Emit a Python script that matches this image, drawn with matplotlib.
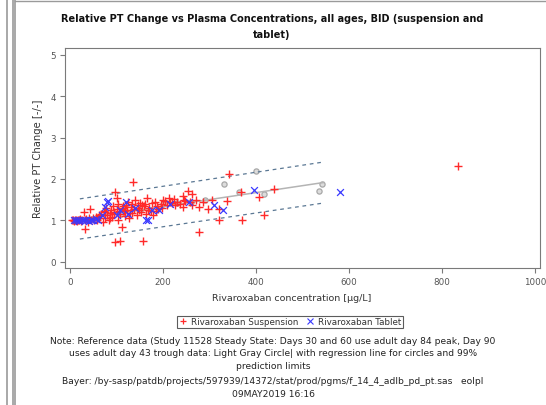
"""Relative PT change vs rivaroxaban plasma concentration (SAS-style scatter)."""

import matplotlib

matplotlib.use("Agg")
import matplotlib.pyplot as plt  # noqa: E402
from matplotlib.lines import Line2D  # noqa: E402

# --- data ------------------------------------------------------------------
SUSP_CONC = [4, 7, 9, 11, 13, 15, 17, 19, 21, 24, 26, 29, 31, 33, 35, 38, 41,
             43, 46, 49, 52, 55, 58, 61, 64, 67, 70, 72, 75, 78, 80, 83, 85,
             88, 90, 92, 95, 97, 97, 100, 100, 102, 104, 107, 108, 111, 112,
             115, 118, 120, 122, 125, 127, 130, 133, 136, 138, 140, 143, 145,
             148, 150, 153, 157, 158, 161, 163, 166, 170, 174, 178, 182, 186,
             190, 195, 200, 203, 208, 212, 218, 224, 230, 236, 242, 242, 248,
             253, 258, 263, 263, 270, 276, 278, 285, 296, 305, 320, 320, 338,
             342, 367, 370, 406, 417, 438, 833,
             62, 74, 86, 94, 105, 113, 117, 128, 132, 146, 155, 168, 176, 184,
             198, 215, 226, 245]
SUSP_VAL = [1.00, 1.01, 0.99, 1.02, 1.00, 0.98, 1.01, 1.00, 1.03, 0.99, 1.02,
            1.20, 1.00, 0.80, 1.04, 0.97, 1.05, 1.28, 1.00, 1.06, 1.02, 1.08,
            1.00, 1.05, 1.10, 1.15, 0.95, 1.22, 1.05, 1.30, 1.12, 1.00, 1.18,
            1.25, 1.08, 1.35, 1.20, 1.68, 0.47, 1.28, 1.55, 1.02, 1.40, 0.51,
            1.15, 0.84, 1.30, 1.22, 1.10, 1.38, 1.25, 1.45, 1.05, 1.32, 1.18,
            1.92, 1.28, 1.50, 1.12, 1.38, 1.25, 1.42, 1.20, 0.51, 1.35, 1.40,
            1.15, 1.55, 1.30, 1.22, 1.12, 1.45, 1.35, 1.28, 1.40, 1.50, 1.48,
            1.38, 1.55, 1.42, 1.52, 1.45, 1.40, 1.60, 1.32, 1.48, 1.72, 1.45,
            1.64, 1.36, 1.50, 0.72, 1.32, 1.45, 1.28, 1.50, 1.28, 1.00, 1.48,
            2.12, 1.68, 1.00, 1.56, 1.12, 1.76, 2.31,
            1.12, 1.20, 1.05, 1.16, 1.22, 1.35, 1.26, 1.18, 1.40, 1.30, 1.36,
            1.25, 1.42, 1.22, 1.30, 1.45, 1.36, 1.50]

TAB_CONC = [8, 12, 16, 20, 25, 30, 35, 40, 45, 50, 55, 60, 68, 75, 79, 82,
            100, 107, 121, 125, 140, 164, 168, 175, 192, 215, 256, 310, 328,
            395, 580]
TAB_VAL = [1.00, 1.00, 1.01, 0.99, 1.00, 1.02, 1.00, 0.98, 1.01, 1.00, 1.03,
           1.00, 1.12, 1.32, 1.44, 1.48, 1.12, 1.24, 1.44, 1.16, 1.30, 1.00,
           1.00, 1.24, 1.24, 1.40, 1.44, 1.36, 1.24, 1.73, 1.68]

REF_CONC = [20, 60, 110, 150, 200, 230, 260, 290, 331, 363, 399, 417, 534, 541]
REF_VAL = [1.02, 1.08, 1.15, 1.25, 1.40, 1.42, 1.45, 1.50, 1.88, 1.69, 2.20,
           1.64, 1.72, 1.88]

# regression line and 99% prediction limits (end points)
FIT_CONC = [21, 545]
FIT_VAL = [1.035, 1.915]
PI_UPPER = [1.52, 2.41]
PI_LOWER = [0.55, 1.42]

X_TICKS = [0, 200, 400, 600, 800, 1000]
Y_TICKS = [0, 1, 2, 3, 4, 5]

TITLE = ("Relative PT Change vs Plasma Concentrations, all ages, BID (suspension and\n"
         "tablet)")
NOTE = ("Note: Reference data (Study 11528 Steady State: Days 30 and 60 use adult day 84 peak, Day 90\n"
        "uses adult day 43 trough data: Light Gray Circle| with regression line for circles and 99%\n"
        "prediction limits")
FOOT = ("Bayer: /by-sasp/patdb/projects/597939/14372/stat/prod/pgms/f_14_4_adlb_pd_pt.sas   eolpl\n"
        "09MAY2019 16:16")

INK = "#111111"
TICK = "#555555"
FRAME = "#7a7a7a"
RED = "#ff2a2a"
BLUE = "#3a3aff"
REF_GRAY = "#a8a8a8"
PI_COLOR = "#5b7894"

plt.rcParams.update({
    "font.family": "DejaVu Sans",
    "font.size": 6.5,
    "axes.edgecolor": FRAME,
    "axes.linewidth": 0.8,
    "xtick.color": FRAME,
    "ytick.color": FRAME,
    "xtick.labelcolor": TICK,
    "ytick.labelcolor": TICK,
    "xtick.major.size": 3.5,
    "ytick.major.size": 3.5,
})

fig = plt.figure(figsize=(5.46, 4.06), dpi=100)
ax = fig.add_axes([0.119, 0.3374, 0.870, 0.5416])

ax.scatter(REF_CONC, REF_VAL, s=14, facecolors="#dcdcdc", edgecolors=REF_GRAY,
           linewidths=0.9, zorder=2)
ax.plot(FIT_CONC, FIT_VAL, color="#b4b4b4", linewidth=1.1, zorder=2)
ax.plot(FIT_CONC, PI_UPPER, color=PI_COLOR, linewidth=0.9, ls=(0, (3, 3)), zorder=2)
ax.plot(FIT_CONC, PI_LOWER, color=PI_COLOR, linewidth=0.9, ls=(0, (3, 3)), zorder=2)
ax.scatter(SUSP_CONC, SUSP_VAL, s=36, marker="+", color=RED, linewidths=1.0, zorder=3)
ax.scatter(TAB_CONC, TAB_VAL, s=24, marker="x", color=BLUE, linewidths=0.9, zorder=4)

ax.set_xlim(-11, 1010)
ax.set_ylim(-0.15, 5.16)
ax.set_xticks(X_TICKS)
ax.set_yticks(Y_TICKS)
ax.tick_params(labelsize=6.3, pad=3)
ax.set_xlabel("Rivaroxaban concentration [µg/L]", fontsize=6.8, color="#333333")
ax.xaxis.set_label_coords(0.478, -0.115)
ax.set_ylabel("Relative PT Change [-/-]", fontsize=7.2, color="#333333", labelpad=5)

fig.text(0.498, 1 - 27 / 406, TITLE, ha="center", va="center", fontsize=7.0,
         fontweight="bold", color=INK, linespacing=1.8)

handles = [
    Line2D([], [], marker="+", color=RED, ls="none", markersize=5, mew=0.9),
    Line2D([], [], marker="x", color=BLUE, ls="none", markersize=4.5, mew=0.8),
]
leg = fig.legend(handles, ["Rivaroxaban Suspension", "Rivaroxaban Tablet"],
                 loc="center", bbox_to_anchor=(290 / 546, 1 - 323 / 406), ncol=2,
                 fontsize=6.3, frameon=True, fancybox=False, borderpad=0.2,
                 handlelength=1.0, handletextpad=0.4, columnspacing=0.8,
                 borderaxespad=0)
leg.get_frame().set_edgecolor("#333333")
leg.get_frame().set_linewidth(0.8)
for t in leg.get_texts():
    t.set_color("#333333")

fig.text(0.5, 1 - 354 / 406, NOTE, ha="center", va="center", fontsize=6.6,
         color="#222222", linespacing=1.5)
fig.text(0.5, 1 - 388 / 406, FOOT, ha="center", va="center", fontsize=6.6,
         color="#222222", linespacing=1.5)

# document frame around the output
for x in (6.5, 12.5, 14.5):
    fig.add_artist(Line2D([x / 546, x / 546], [0, 1], color="#9a9a9a", lw=1.2))
fig.add_artist(Line2D([14.5 / 546, 1], [1 - 1.5 / 406] * 2, color="#9a9a9a", lw=1.0))

fig.savefig("out.png", dpi=100)
